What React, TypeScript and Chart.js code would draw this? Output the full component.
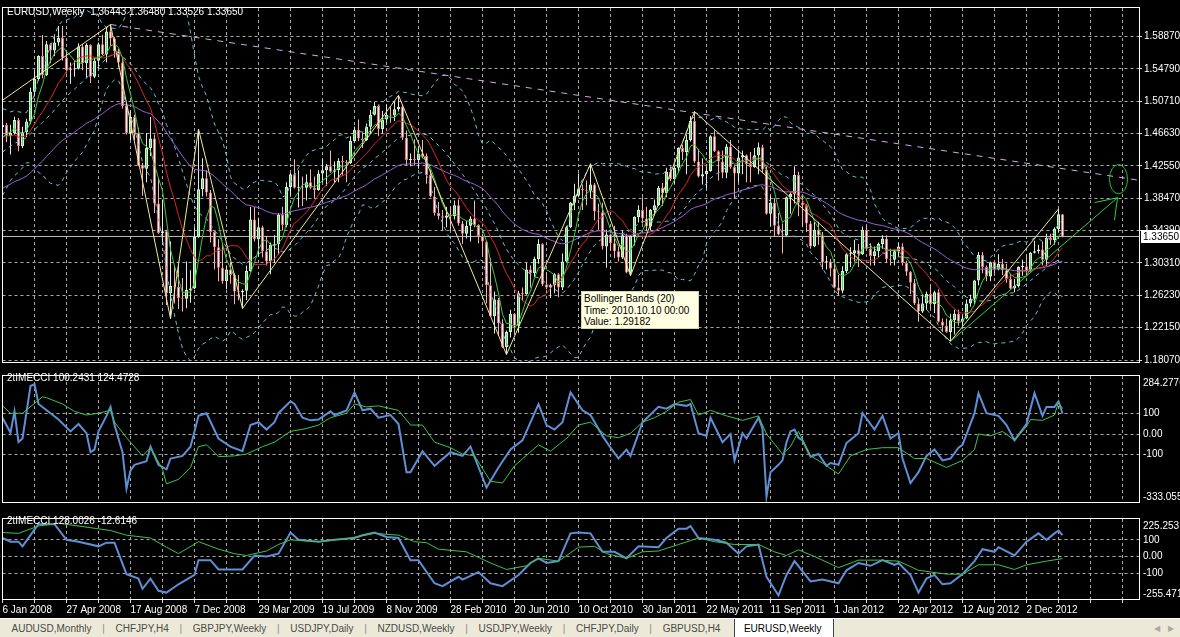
import React, { useEffect, useRef } from 'react';
import { Chart, registerables } from 'chart.js';

Chart.register(...registerables);

const FONT = "'Liberation Sans', Arial, sans-serif";
Chart.defaults.font.family = FONT;
Chart.defaults.font.size = 10;
Chart.defaults.color = '#FFFFFF';

// ---------------- data ----------------
const dateLabels = ['6 Jan 2008', '27 Apr 2008', '17 Aug 2008', '7 Dec 2008', '29 Mar 2009', '19 Jul 2009', '8 Nov 2009', '28 Feb 2010', '20 Jun 2010', '10 Oct 2010', '30 Jan 2011', '22 May 2011', '11 Sep 2011', '1 Jan 2012', '22 Apr 2012', '12 Aug 2012', '2 Dec 2012'];
const priceTicks = [1.1807, 1.2215, 1.2623, 1.3031, 1.3439, 1.3847, 1.4255, 1.4663, 1.5071, 1.5479, 1.5887];
const PRICE_MIN = 1.1782;
const PRICE_MAX = 1.6246;
const cciTicks = [100, 0, -100];
const CCI1_MIN = -333.055;
const CCI1_MAX = 284.2776;
const CCI2_MIN = -255.471;
const CCI2_MAX = 225.2531;

// weekly closes before the first visible bar (indicator warm-up)
const historyCloses = [1.3000, 1.2950, 1.2950, 1.2990, 1.3050, 1.3000, 1.3140, 1.3210, 1.3120, 1.3250, 1.3340, 1.3320, 1.3350, 1.3440, 1.3510, 1.3570, 1.3630, 1.3570, 1.3530, 1.3510, 1.3450, 1.3470, 1.3360, 1.3440, 1.3500, 1.3620, 1.3790, 1.3830, 1.3680, 1.3740, 1.3660, 1.3460, 1.3530, 1.3650, 1.3880, 1.3920, 1.4090, 1.4200, 1.4220, 1.4190, 1.4270, 1.4380, 1.4450, 1.4680, 1.4690, 1.4820, 1.4640, 1.4660, 1.4440, 1.4370, 1.4580, 1.4590, 1.4745];

const closes = [
  1.4770, 1.4630, 1.4670, 1.4835, 1.4505, 1.4680, 1.4815, 1.5190, 1.5350, 1.5640,
  1.5400, 1.5790, 1.5710, 1.5810, 1.5870, 1.5620, 1.5460, 1.5470, 1.5480, 1.5760,
  1.5550, 1.5780, 1.5380, 1.5580, 1.5790, 1.5660, 1.5950, 1.5860, 1.5700, 1.5560,
  1.5010, 1.4670, 1.4870, 1.4670, 1.4260, 1.4220, 1.4480, 1.4600, 1.3780, 1.3410,
  1.3430, 1.2650, 1.2740, 1.2730, 1.2590, 1.2580, 1.2690, 1.2710, 1.3360, 1.3960,
  1.4100, 1.3920, 1.3420, 1.3230, 1.2970, 1.2800, 1.2950, 1.2880, 1.2670, 1.2660,
  1.2680, 1.2930, 1.3580, 1.3330, 1.3480, 1.3180, 1.3050, 1.3260, 1.3270, 1.3640,
  1.3510, 1.3990, 1.4150, 1.3980, 1.3990, 1.3980, 1.4050, 1.3980, 1.3950, 1.4160,
  1.4200, 1.4250, 1.4180, 1.4200, 1.4320, 1.4300, 1.4290, 1.4570, 1.4710, 1.4600,
  1.4580, 1.4750, 1.4900, 1.5010, 1.4720, 1.4840, 1.4900, 1.4890, 1.4970, 1.5000,
  1.4610, 1.4330, 1.4340, 1.4330, 1.4410, 1.4380, 1.4140, 1.3870, 1.3660, 1.3620,
  1.3600, 1.3630, 1.3620, 1.3760, 1.3530, 1.3400, 1.3500, 1.3590, 1.3510, 1.3370,
  1.3300, 1.2750, 1.2360, 1.2570, 1.2270, 1.1970, 1.2160, 1.2390, 1.2240, 1.2650,
  1.2640, 1.2950, 1.2900, 1.3080, 1.3270, 1.2760, 1.2720, 1.2750, 1.2890, 1.2720,
  1.3050, 1.3480, 1.3790, 1.3880, 1.3960, 1.3950, 1.3940, 1.4020, 1.3680, 1.3670,
  1.3240, 1.3390, 1.3280, 1.3180, 1.3100, 1.3380, 1.2910, 1.3370, 1.3610, 1.3700,
  1.3590, 1.3490, 1.3700, 1.3760, 1.3980, 1.3910, 1.4180, 1.4090, 1.4230, 1.4480,
  1.4430, 1.4580, 1.4820, 1.4310, 1.4120, 1.4150, 1.4190, 1.4630, 1.4440, 1.4310,
  1.4170, 1.4500, 1.4240, 1.4160, 1.4360, 1.4390, 1.4280, 1.4240, 1.4390, 1.4490,
  1.4210, 1.3650, 1.3790, 1.3500, 1.3390, 1.3380, 1.3860, 1.3900, 1.4140, 1.3790,
  1.3760, 1.3530, 1.3240, 1.3450, 1.3380, 1.3040, 1.3050, 1.2960, 1.2720, 1.2680,
  1.2930, 1.3140, 1.3150, 1.3190, 1.3140, 1.3450, 1.3210, 1.3120, 1.3180, 1.3270,
  1.3340, 1.3080, 1.3070, 1.3180, 1.3240, 1.3030, 1.2920, 1.2780, 1.2520, 1.2420,
  1.2520, 1.2640, 1.2510, 1.2660, 1.2290, 1.2240, 1.2160, 1.2310, 1.2390, 1.2290,
  1.2330, 1.2520, 1.2580, 1.2810, 1.3130, 1.2980, 1.2860, 1.3040, 1.2950, 1.3020,
  1.2940, 1.2830, 1.2710, 1.2740, 1.2980, 1.2990, 1.2930, 1.3160, 1.3180, 1.3200,
  1.3070, 1.3350, 1.3320, 1.3460, 1.36443, 1.33650,
];

const highs = [
  1.4800, 1.4800, 1.4775, 1.4875, 1.4860, 1.4750, 1.4850, 1.5240, 1.5460, 1.5650,
  1.5905, 1.5830, 1.5800, 1.5915, 1.6020, 1.6019, 1.5700, 1.5560, 1.5580, 1.5800,
  1.5790, 1.5800, 1.5790, 1.5620, 1.5810, 1.5910, 1.6000, 1.6038, 1.5880, 1.5730,
  1.5620, 1.5040, 1.4950, 1.4900, 1.4740, 1.4290, 1.4670, 1.4870, 1.4650, 1.4100,
  1.3830, 1.3450, 1.3300, 1.3000, 1.3000, 1.2840, 1.3050, 1.2940, 1.3480, 1.4720,
  1.4350, 1.4200, 1.3950, 1.3430, 1.3330, 1.3280, 1.3000, 1.3040, 1.2900, 1.2880,
  1.2700, 1.3000, 1.3740, 1.3740, 1.3600, 1.3500, 1.3370, 1.3290, 1.3380, 1.3660,
  1.3740, 1.4050, 1.4170, 1.4340, 1.4200, 1.4120, 1.4150, 1.4210, 1.4120, 1.4200,
  1.4340, 1.4280, 1.4450, 1.4310, 1.4350, 1.4380, 1.4330, 1.4630, 1.4750, 1.4840,
  1.4680, 1.4790, 1.4960, 1.5060, 1.5030, 1.4950, 1.5030, 1.5000, 1.5060, 1.5144,
  1.5030, 1.4700, 1.4410, 1.4590, 1.4500, 1.4580, 1.4410, 1.4200, 1.3990, 1.3800,
  1.3700, 1.3740, 1.3740, 1.3820, 1.3830, 1.3560, 1.3560, 1.3620, 1.3820, 1.3520,
  1.3400, 1.3310, 1.3090, 1.2670, 1.2590, 1.2320, 1.2180, 1.2440, 1.2400, 1.2680,
  1.2720, 1.3030, 1.3000, 1.3110, 1.3330, 1.3280, 1.2910, 1.2770, 1.2900, 1.2900,
  1.3150, 1.3500, 1.3800, 1.4030, 1.4160, 1.4020, 1.4070, 1.4282, 1.4040, 1.3780,
  1.3790, 1.3450, 1.3400, 1.3500, 1.3240, 1.3440, 1.3400, 1.3380, 1.3620, 1.3760,
  1.3860, 1.3740, 1.3710, 1.3830, 1.4000, 1.4040, 1.4230, 1.4250, 1.4250, 1.4490,
  1.4520, 1.4650, 1.4880, 1.4940, 1.4470, 1.4350, 1.4240, 1.4640, 1.4700, 1.4450,
  1.4450, 1.4530, 1.4580, 1.4260, 1.4460, 1.4450, 1.4400, 1.4430, 1.4480, 1.4550,
  1.4520, 1.4250, 1.3880, 1.3850, 1.3660, 1.3530, 1.3870, 1.3930, 1.4250, 1.4180,
  1.3870, 1.3770, 1.3560, 1.3550, 1.3550, 1.3420, 1.3120, 1.3080, 1.3080, 1.2880,
  1.2990, 1.3160, 1.3230, 1.3320, 1.3270, 1.3490, 1.3490, 1.3280, 1.3240, 1.3290,
  1.3380, 1.3380, 1.3210, 1.3200, 1.3280, 1.3280, 1.3060, 1.2930, 1.2830, 1.2580,
  1.2630, 1.2670, 1.2750, 1.2680, 1.2700, 1.2330, 1.2330, 1.2390, 1.2440, 1.2440,
  1.2370, 1.2570, 1.2630, 1.2820, 1.3170, 1.3170, 1.3000, 1.3050, 1.3050, 1.3140,
  1.3080, 1.3020, 1.2890, 1.2830, 1.2990, 1.3070, 1.3130, 1.3170, 1.3310, 1.3260,
  1.3300, 1.3400, 1.3400, 1.3480, 1.3711, 1.36480,
];

const lows = [
  1.4580, 1.4555, 1.4400, 1.4650, 1.4440, 1.4480, 1.4620, 1.4780, 1.5130, 1.5330,
  1.5360, 1.5390, 1.5550, 1.5640, 1.5770, 1.5580, 1.5420, 1.5290, 1.5380, 1.5470,
  1.5460, 1.5360, 1.5300, 1.5360, 1.5480, 1.5650, 1.5560, 1.5770, 1.5620, 1.5500,
  1.4980, 1.4650, 1.4580, 1.4580, 1.4250, 1.3880, 1.4050, 1.4380, 1.3660, 1.3400,
  1.3260, 1.2500, 1.2330, 1.2520, 1.2450, 1.2420, 1.2460, 1.2530, 1.2700, 1.3350,
  1.3870, 1.3870, 1.3290, 1.2950, 1.2800, 1.2770, 1.2700, 1.2770, 1.2510, 1.2560,
  1.2457, 1.2560, 1.2920, 1.3300, 1.3110, 1.3100, 1.3000, 1.2890, 1.3030, 1.3140,
  1.3440, 1.3480, 1.3880, 1.3970, 1.3730, 1.3750, 1.3820, 1.3960, 1.3840, 1.3940,
  1.4050, 1.4000, 1.4170, 1.4050, 1.4050, 1.4130, 1.4050, 1.4280, 1.4550, 1.4570,
  1.4480, 1.4570, 1.4670, 1.4890, 1.4630, 1.4660, 1.4800, 1.4800, 1.4820, 1.4940,
  1.4580, 1.4260, 1.4250, 1.4260, 1.4220, 1.4350, 1.4030, 1.3860, 1.3630, 1.3580,
  1.3440, 1.3480, 1.3440, 1.3580, 1.3500, 1.3270, 1.3340, 1.3300, 1.3480, 1.3280,
  1.3110, 1.2520, 1.2350, 1.2140, 1.2110, 1.1960, 1.1876, 1.2090, 1.2150, 1.2150,
  1.2550, 1.2630, 1.2720, 1.2850, 1.3020, 1.2740, 1.2700, 1.2590, 1.2650, 1.2600,
  1.2690, 1.3040, 1.3470, 1.3700, 1.3860, 1.3700, 1.3760, 1.3850, 1.3570, 1.3450,
  1.3200, 1.2970, 1.3190, 1.3090, 1.3050, 1.3080, 1.2900, 1.2870, 1.3250, 1.3540,
  1.3530, 1.3430, 1.3440, 1.3630, 1.3750, 1.3750, 1.3860, 1.4060, 1.4030, 1.4170,
  1.4330, 1.4150, 1.4560, 1.4290, 1.4110, 1.4020, 1.3970, 1.4180, 1.4430, 1.4070,
  1.4100, 1.4100, 1.4220, 1.3840, 1.4050, 1.4150, 1.4050, 1.4050, 1.4230, 1.4150,
  1.4170, 1.3640, 1.3500, 1.3360, 1.3380, 1.3150, 1.3360, 1.3650, 1.3780, 1.3620,
  1.3480, 1.3420, 1.3210, 1.3230, 1.3260, 1.2950, 1.2950, 1.2860, 1.2710, 1.2620,
  1.2650, 1.2900, 1.2980, 1.3050, 1.2980, 1.3130, 1.3190, 1.3000, 1.3000, 1.3100,
  1.3210, 1.3030, 1.3000, 1.3000, 1.3120, 1.3000, 1.2870, 1.2640, 1.2500, 1.2290,
  1.2400, 1.2440, 1.2450, 1.2400, 1.2280, 1.2160, 1.2150, 1.2042, 1.2130, 1.2240,
  1.2240, 1.2320, 1.2480, 1.2510, 1.2750, 1.2900, 1.2800, 1.2800, 1.2870, 1.2940,
  1.2880, 1.2780, 1.2700, 1.2660, 1.2720, 1.2870, 1.2880, 1.2920, 1.3150, 1.3150,
  1.3000, 1.2990, 1.3260, 1.3260, 1.3420, 1.33526,
];

// drawn objects (bar index, price)
const zigzagBars = [0, 27, 42, 49, 60, 99, 126, 147, 157, 173, 237, 264];
const zigzagPrices = [1.5083, 1.6038, 1.2330, 1.4720, 1.2457, 1.5144, 1.1876, 1.4282, 1.2870, 1.4940, 1.2042, 1.3711];
const trendBars = [27, 284];
const trendPrices = [1.6038, 1.4075];
const arrowBars = [237, 278.75];
const arrowPrices = [1.2042, 1.3854];
const arrowHeadA = [[278.75, 1.3854], [273, 1.3792]];
const arrowHeadB = [[278.75, 1.3854], [278, 1.3570]];
const ellipseCenter = [279, 1.4088];
const ellipseRadius = [2.25, 0.0185];

// 2tIMECCI panels: [bar, value]
const cci1Fast = [[0,80],[2,6],[3,111],[4,-39],[5,-22],[7,235],[8,244],[9,147],[12,102],[14,71],[17,13],[19,49],[21,4],[22,-89],[23,-76],[24,13],[26,89],[27,133],[28,44],[30,-89],[31,-267],[32,-178],[33,-151],[36,-133],[37,-62],[39,-151],[41,-173],[42,-120],[45,-107],[47,-62],[49,89],[51,102],[54,-22],[57,-62],[60,-84],[62,44],[64,58],[66,22],[68,58],[69,102],[72,160],[73,147],[75,80],[77,67],[79,71],[82,111],[83,93],[86,116],[88,204],[90,116],[92,124],[94,80],[97,93],[99,49],[101,-187],[102,-187],[105,-84],[108,-156],[112,-89],[115,-107],[117,-62],[121,-262],[124,-164],[127,-76],[130,-31],[134,147],[136,44],[138,22],[140,58],[142,204],[145,116],[147,93],[150,-9],[152,-67],[154,-120],[156,-76],[157,-107],[160,58],[164,133],[166,124],[168,147],[171,138],[172,147],[174,4],[176,-9],[177,80],[180,-40],[182,0],[183,-129],[185,4],[186,-22],[189,80],[190,27],[191,-307],[192,-187],[194,-151],[195,-129],[196,-40],[197,13],[198,22],[199,-18],[200,-31],[202,-111],[204,-98],[206,-156],[207,-142],[209,-151],[211,-44],[214,4],[215,102],[218,22],[220,89],[222,-22],[224,4],[225,-120],[227,-240],[229,-187],[231,-107],[233,-76],[235,-129],[237,-120],[239,-67],[240,-53],[243,102],[244,200],[246,102],[249,89],[251,44],[253,-31],[256,49],[258,200],[260,89],[261,133],[263,133],[264,160],[265,100.2431]];
const cci1Slow = [[0,138],[2,102],[5,102],[10,182],[11,178],[15,147],[18,111],[21,93],[24,102],[27,116],[28,58],[31,-18],[35,-107],[37,-67],[40,-173],[41,-244],[44,-222],[47,-164],[49,-62],[51,-53],[54,-111],[58,-107],[61,-98],[65,-62],[68,-40],[72,13],[76,27],[79,44],[82,80],[86,102],[88,147],[91,133],[94,138],[99,116],[102,44],[105,44],[108,-40],[112,-67],[115,-98],[118,-107],[122,-231],[125,-240],[128,-156],[134,-53],[137,-84],[141,-22],[144,44],[147,58],[151,-9],[154,-18],[157,4],[160,58],[163,80],[166,111],[169,156],[172,169],[174,93],[177,116],[181,89],[185,67],[189,89],[191,0],[195,-98],[197,-62],[199,13],[202,-107],[205,-142],[209,-196],[212,-107],[216,-76],[220,-67],[224,-67],[228,-120],[231,-120],[236,-164],[240,-129],[243,-76],[244,0],[247,-9],[250,13],[253,-31],[256,36],[257,71],[260,67],[263,93],[264,156],[265,124.4728]];
const cci2Fast = [[0,111],[2,89],[4,89],[5,61],[7,128],[9,194],[13,194],[16,100],[19,89],[24,61],[26,83],[28,83],[31,-106],[34,-133],[35,-194],[37,-133],[39,-206],[41,-217],[44,-167],[48,-111],[49,-22],[52,-22],[54,-78],[60,-78],[63,6],[66,0],[69,17],[72,144],[74,100],[79,89],[83,100],[88,111],[90,128],[93,144],[96,117],[99,111],[102,-22],[104,-22],[108,-161],[110,-178],[114,-122],[115,-139],[119,-94],[122,-161],[125,-178],[129,-111],[132,-39],[134,-11],[136,-39],[139,-28],[142,139],[144,144],[147,139],[150,28],[153,28],[156,-11],[159,61],[164,56],[166,111],[169,167],[171,167],[172,183],[174,111],[178,100],[181,83],[184,17],[186,61],[189,72],[191,-122],[194,-233],[196,-111],[198,-28],[202,-150],[205,-139],[209,-161],[211,-83],[214,-39],[217,-56],[220,-22],[223,-50],[224,-39],[227,-111],[229,-217],[231,-133],[233,-111],[235,-167],[237,-161],[240,-106],[243,-28],[245,44],[248,28],[249,56],[253,6],[256,89],[259,139],[261,100],[263,139],[264,156],[265,128.0026]];
const cci2Slow = [[0,144],[4,139],[9,183],[14,200],[27,156],[31,128],[37,111],[41,56],[44,17],[49,89],[54,44],[58,17],[61,6],[66,33],[69,72],[72,100],[79,89],[87,111],[93,139],[99,128],[103,89],[106,83],[109,44],[116,28],[122,-39],[126,-78],[131,-56],[134,-11],[139,-28],[144,56],[148,61],[151,17],[156,-11],[160,28],[164,33],[169,72],[174,111],[178,89],[183,72],[189,72],[193,28],[196,6],[199,40],[203,0],[209,-67],[214,-22],[219,-22],[224,-28],[229,-83],[236,-106],[240,-106],[244,-50],[249,-50],[253,-78],[256,-50],[261,-28],[265,-12.6146]];

const tabNames = ['AUDUSD,Monthly', 'CHFJPY,H4', 'GBPJPY,Weekly', 'USDJPY,Daily', 'NZDUSD,Weekly', 'USDJPY,Weekly', 'CHFJPY,Daily', 'GBPUSD,H4', 'EURUSD,Weekly'];
const activeTab = 8;
const tooltipLines = ['Bollinger Bands (20)', 'Time: 2010.10.10 00:00', 'Value: 1.29182'];

// ---------------- derived ----------------
const H = historyCloses.length;
const allCloses = [...historyCloses, ...closes];
const opens = closes.map((_, i) => (i === 0 ? historyCloses[H - 1] : closes[i - 1]));
const N = closes.length;
const lastClose = closes[N - 1];

function sma(period: number) {
  return closes.map((_, i) => {
    let s = 0;
    for (let k = 0; k < period; k++) s += allCloses[H + i - k];
    return { x: i, y: s / period };
  });
}
function ema(period: number) {
  const a = 2 / (period + 1);
  let e = allCloses[0];
  const out: any[] = [];
  allCloses.forEach((c, j) => {
    e = j === 0 ? c : a * c + (1 - a) * e;
    if (j >= H) out.push({ x: j - H, y: e });
  });
  return out;
}
function bands(period: number, dev: number) {
  const up: any[] = [], mid: any[] = [], lo: any[] = [];
  closes.forEach((_, i) => {
    let s = 0;
    for (let k = 0; k < period; k++) s += allCloses[H + i - k];
    const m = s / period;
    let v = 0;
    for (let k = 0; k < period; k++) v += (allCloses[H + i - k] - m) ** 2;
    const sd = Math.sqrt(v / period);
    up.push({ x: i, y: m + dev * sd });
    mid.push({ x: i, y: m });
    lo.push({ x: i, y: m - dev * sd });
  });
  return { up, mid, lo };
}

const X_MIN = 0;
const X_MAX = 284.125;
const GRID = '#A8A8A8';
const gridBars = Array.from({ length: 36 }, (_, k) => k * 8);

function line(data: any[], color: string, width = 1, dash: number[] = [], order = 5) {
  return { type: 'line', data, borderColor: color, borderWidth: width, borderDash: dash, pointRadius: 0, pointHoverRadius: 0, tension: 0, fill: false, order };
}

function xScale(showLabels: boolean) {
  return {
    type: 'linear',
    min: X_MIN,
    max: X_MAX,
    offset: false,
    afterBuildTicks: (s: any) => { s.ticks = gridBars.map((v) => ({ value: v })); },
    afterFit: (s: any) => { s.height = showLabels ? 19 : 0; },
    grid: { color: GRID, lineWidth: 1, offset: false, drawTicks: showLabels, tickLength: 4, tickColor: '#D8D8D8' },
    border: { display: false, dash: [3, 3] },
    ticks: {
      display: showLabels, autoSkip: false, maxRotation: 0, minRotation: 0, align: 'start', padding: 1, color: '#FFFFFF',
      callback: (v: number) => (v % 16 === 0 && dateLabels[v / 16] ? dateLabels[v / 16] : ''),
    },
  };
}

const framePlugin = {
  id: 'frame',
  afterDraw(chart: any) {
    const { ctx, chartArea: a } = chart;
    const l = Math.floor(a.left) + 0.5;
    const r = Math.round(a.right) + 0.5;
    const t = Math.round(a.top) - 0.5;
    const b = Math.round(a.bottom) + 0.5;
    ctx.save();
    ctx.strokeStyle = '#FFFFFF';
    ctx.lineWidth = 1;
    ctx.strokeRect(l, t, r - l, b - t);
    ctx.restore();
  },
};

const mainOverlay = {
  id: 'mainOverlay',
  afterDatasetsDraw(chart: any) {
    const { ctx, chartArea: a, scales } = chart;
    const x = scales.x, y = scales.y;
    ctx.save();
    ctx.beginPath();
    ctx.rect(a.left, a.top, a.right - a.left, a.bottom - a.top);
    ctx.clip();
    const cx = x.getPixelForValue(ellipseCenter[0]);
    const cy = y.getPixelForValue(ellipseCenter[1]);
    const rx = Math.abs(x.getPixelForValue(ellipseCenter[0] + ellipseRadius[0]) - cx);
    const ry = Math.abs(y.getPixelForValue(ellipseCenter[1] + ellipseRadius[1]) - cy);
    ctx.strokeStyle = '#22C422';
    ctx.lineWidth = 1;
    ctx.beginPath();
    ctx.ellipse(cx, cy, rx, ry, 0, 0, Math.PI * 2);
    ctx.stroke();
    ctx.restore();
  },
  afterDraw(chart: any) {
    const { ctx, chartArea: a, scales } = chart;
    const py = Math.round(scales.y.getPixelForValue(lastClose));
    ctx.save();
    ctx.fillStyle = '#FFFFFF';
    ctx.fillRect(a.right + 2, py - 6, 40, 13);
    ctx.fillStyle = '#000000';
    ctx.font = `10px ${FONT}`;
    ctx.textBaseline = 'middle';
    ctx.textAlign = 'left';
    ctx.fillText(lastClose.toFixed(5), a.right + 4, py + 1);
    ctx.restore();
  },
};

function cciOverlay(maxText: string, minText: string) {
  return {
    id: 'cciOverlay',
    afterDraw(chart: any) {
      const { ctx, chartArea: a } = chart;
      ctx.save();
      ctx.fillStyle = '#FFFFFF';
      ctx.font = `10px ${FONT}`;
      ctx.textBaseline = 'middle';
      ctx.textAlign = 'left';
      ctx.fillText(maxText, a.right + 4, a.top + 7);
      ctx.fillText(minText, a.right + 4, a.bottom - 5);
      ctx.restore();
    },
  };
}

function mainConfig(): any {
  const bb = bands(20, 2);
  const bull = (i: number) => closes[i] >= opens[i];
  return {
    type: 'bar',
    data: {
      datasets: [
        line([{ x: X_MIN, y: lastClose }, { x: X_MAX, y: lastClose }], '#BEBEBE', 1, [], 30),
        {
          type: 'bar', label: 'wick', order: 20, grouped: false, barThickness: 1, inflateAmount: 0,
          data: closes.map((_, i) => ({ x: i, y: [lows[i], highs[i]] })),
          backgroundColor: closes.map((_, i) => (bull(i) ? '#E6E6E6' : '#F2B4B4')),
        },
        {
          type: 'bar', label: 'body', order: 19, grouped: false, barThickness: 3, inflateAmount: 0, minBarLength: 1,
          borderSkipped: false, borderWidth: 1,
          data: closes.map((_, i) => ({ x: i, y: [opens[i], closes[i]] })),
          backgroundColor: closes.map((_, i) => (bull(i) ? '#5ED85E' : '#FFFFFF')),
          borderColor: closes.map((_, i) => (bull(i) ? '#D8F4D8' : '#EC6A6A')),
        },
        line(bb.up, '#66C2D2', 1, [4, 4], 12),
        line(bb.mid, '#66C2D2', 1, [4, 4], 12),
        line(bb.lo, '#66C2D2', 1, [4, 4], 12),
        line(ema(50), '#9A62D6', 1, [], 11),
        line(sma(12), '#D42828', 1, [], 10),
        line(sma(5), '#3CCB3C', 1, [], 9),
        line(zigzagBars.map((b, i) => ({ x: b, y: zigzagPrices[i] })), '#EEEA96', 1, [], 6),
        line(trendBars.map((b, i) => ({ x: b, y: trendPrices[i] })), '#D9A6E6', 1, [6, 6], 5),
        line(arrowBars.map((b, i) => ({ x: b, y: arrowPrices[i] })), '#38CC38', 1, [], 4),
        line(arrowHeadA.map((p) => ({ x: p[0], y: p[1] })), '#38CC38', 1, [], 4),
        line(arrowHeadB.map((p) => ({ x: p[0], y: p[1] })), '#38CC38', 1, [], 4),
      ],
    },
    options: {
      animation: false, responsive: false, maintainAspectRatio: false, events: [],
      layout: { padding: { left: 2.5, right: 0, top: 3, bottom: 5 } },
      plugins: { legend: { display: false }, tooltip: { enabled: false } },
      scales: {
        x: xScale(false),
        y: {
          position: 'right', min: PRICE_MIN, max: PRICE_MAX,
          afterBuildTicks: (s: any) => { s.ticks = priceTicks.map((v) => ({ value: v })); },
          afterFit: (s: any) => { s.width = 41; },
          grid: { color: GRID, drawTicks: true, tickLength: 3, tickColor: '#D8D8D8' },
          border: { display: false, dash: [3, 3] },
          ticks: { color: '#FFFFFF', padding: 2, callback: (v: number) => Number(v).toFixed(5) },
        },
      },
    },
    plugins: [mainOverlay, framePlugin],
  };
}

function cciConfig(fast: number[][], slow: number[][], min: number, max: number, showLabels: boolean, bottomPad: number): any {
  return {
    type: 'line',
    data: {
      datasets: [
        line(fast.map((p) => ({ x: p[0], y: p[1] })), '#5F8FD4', 2, [], 2),
        line(slow.map((p) => ({ x: p[0], y: p[1] })), '#3FC44A', 1, [], 1),
      ],
    },
    options: {
      animation: false, responsive: false, maintainAspectRatio: false, events: [],
      layout: { padding: { left: 2.5, right: 0, top: 3, bottom: bottomPad } },
      plugins: { legend: { display: false }, tooltip: { enabled: false } },
      scales: {
        x: xScale(showLabels),
        y: {
          position: 'right', min, max,
          afterBuildTicks: (s: any) => { s.ticks = cciTicks.map((v) => ({ value: v })); },
          afterFit: (s: any) => { s.width = 41; },
          grid: { color: GRID, drawTicks: false },
          border: { display: false, dash: [3, 3] },
          ticks: { color: '#FFFFFF', padding: 4, callback: (v: number) => (v === 0 ? '0.00' : String(v)) },
        },
      },
    },
    plugins: [cciOverlay(max.toFixed(4), min.toFixed(3)), framePlugin],
  };
}

const textStyle: any = { position: 'absolute', color: '#FFFFFF', font: `10px ${FONT}`, whiteSpace: 'pre', lineHeight: '13px' };

export default function App() {
  const mainRef = useRef<HTMLCanvasElement>(null);
  const cci1Ref = useRef<HTMLCanvasElement>(null);
  const cci2Ref = useRef<HTMLCanvasElement>(null);

  useEffect(() => {
    const charts = [
      new Chart(mainRef.current as HTMLCanvasElement, mainConfig()),
      new Chart(cci1Ref.current as HTMLCanvasElement, cciConfig(cci1Fast, cci1Slow, CCI1_MIN, CCI1_MAX, false, 4)),
      new Chart(cci2Ref.current as HTMLCanvasElement, cciConfig(cci2Fast, cci2Slow, CCI2_MIN, CCI2_MAX, true, 0)),
    ];
    return () => charts.forEach((c) => c.destroy());
  }, []);

  const title = `EURUSD,Weekly  ${opens[N - 1].toFixed(5)} ${highs[N - 1].toFixed(5)} ${lows[N - 1].toFixed(5)} ${closes[N - 1].toFixed(5)}`;
  const cci1Title = `2tIMECCI ${cci1Fast[cci1Fast.length - 1][1].toFixed(4)} ${cci1Slow[cci1Slow.length - 1][1].toFixed(4)}`;
  const cci2Title = `2tIMECCI ${cci2Fast[cci2Fast.length - 1][1].toFixed(4)} ${cci2Slow[cci2Slow.length - 1][1].toFixed(4)}`;

  return (
    <div style={{ position: 'fixed', left: 0, top: 0, width: 1180, height: 637, background: '#000000', overflow: 'hidden', fontFamily: FONT }}>
      <canvas ref={mainRef} width={1180} height={370} style={{ position: 'absolute', left: 0, top: 0, width: 1180, height: 370 }} />
      <canvas ref={cci1Ref} width={1180} height={146} style={{ position: 'absolute', left: 0, top: 366, width: 1180, height: 146 }} />
      <canvas ref={cci2Ref} width={1180} height={109} style={{ position: 'absolute', left: 0, top: 509, width: 1180, height: 109 }} />

      <div style={{ ...textStyle, left: 7, top: 5 }}>{title}</div>
      <div style={{ ...textStyle, left: 7, top: 371 }}>{cci1Title}</div>
      <div style={{ ...textStyle, left: 7, top: 514 }}>{cci2Title}</div>

      <div style={{ position: 'absolute', left: 581, top: 291, width: 114, height: 35, background: '#FFFFE1', border: '1px solid #D8D8B0', padding: '1px 0 0 2px', boxSizing: 'content-box', color: '#000', font: `10px ${FONT}`, lineHeight: '11.5px', whiteSpace: 'pre' }}>
        {tooltipLines.map((t) => <div key={t}>{t}</div>)}
      </div>

      <div style={{ position: 'absolute', left: 0, top: 618, width: 1180, height: 19, background: '#ECE9D8', borderTop: '1px solid #FFFFFF', boxSizing: 'border-box', display: 'flex', alignItems: 'stretch', font: `10px ${FONT}`, color: '#4A4A4A' }}>
        <div style={{ width: 1 }} />
        {tabNames.map((name, i) => {
          const active = i === activeTab;
          const nextActive = i + 1 === activeTab;
          return (
            <React.Fragment key={name}>
              <div style={{ padding: active ? '0 11px 0 9px' : '0 10.5px', display: 'flex', alignItems: 'center', background: active ? '#FFFFFF' : 'transparent', color: active ? '#000000' : '#4A4A4A', borderLeft: active ? '1px solid #404040' : 'none', borderRight: active ? '1px solid #404040' : 'none' }}>{name}</div>
              {i < tabNames.length - 1 && (
                <div style={{ width: 3, display: 'flex', alignItems: 'center', justifyContent: 'center', color: '#8A8A8A' }}>{nextActive ? '' : '|'}</div>
              )}
            </React.Fragment>
          );
        })}
        <div style={{ flex: 1 }} />
        <div style={{ display: 'flex', alignItems: 'center', color: '#A8A8A8', fontSize: 8, paddingRight: 6, gap: 8 }}>
          <span>◀</span><span>▶</span>
        </div>
      </div>
    </div>
  );
}
